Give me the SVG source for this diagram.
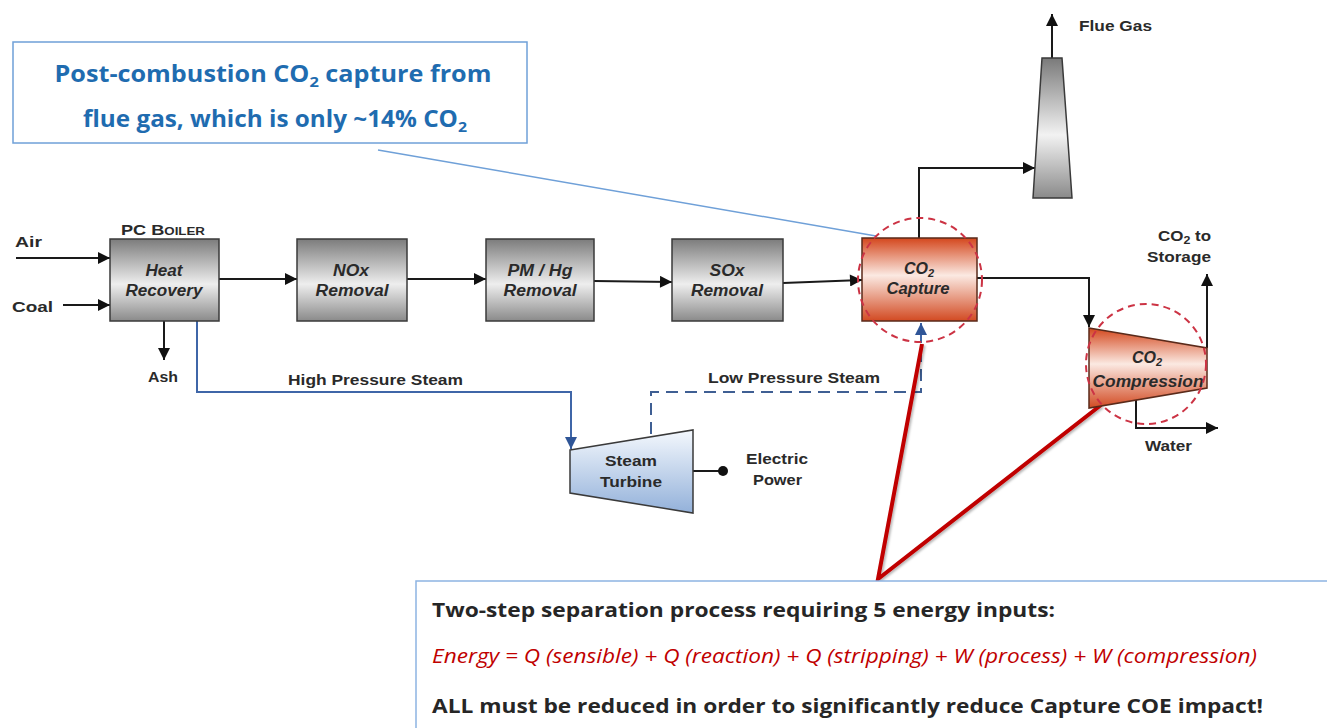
<svg xmlns="http://www.w3.org/2000/svg" width="1327" height="728" viewBox="0 0 1327 728">
  <defs>
    <linearGradient id="gGray" x1="0" y1="0" x2="0" y2="1">
      <stop offset="0" stop-color="#7c7c7c"/>
      <stop offset="0.55" stop-color="#eeeeee"/>
      <stop offset="1" stop-color="#8a8a8a"/>
    </linearGradient>
    <linearGradient id="gRed" x1="0" y1="0" x2="0" y2="1">
      <stop offset="0" stop-color="#d4471d"/>
      <stop offset="0.45" stop-color="#fbe9e2"/>
      <stop offset="1" stop-color="#d24a22"/>
    </linearGradient>
    <linearGradient id="gBlue" x1="0" y1="0" x2="0" y2="1">
      <stop offset="0" stop-color="#f4f8fd"/>
      <stop offset="1" stop-color="#93b1da"/>
    </linearGradient>
    <linearGradient id="gStack" x1="0" y1="0" x2="0" y2="1">
      <stop offset="0" stop-color="#7a7a7a"/>
      <stop offset="0.55" stop-color="#f2f2f2"/>
      <stop offset="1" stop-color="#8a8a8a"/>
    </linearGradient>
    <marker id="ah" viewBox="0 0 10 10" refX="10" refY="5" markerWidth="16" markerHeight="12" markerUnits="userSpaceOnUse" orient="auto">
      <path d="M0,0 L10,5 L0,10 z" fill="#111"/>
    </marker>
    <marker id="ahBlue" viewBox="0 0 10 10" refX="10" refY="5" markerWidth="16" markerHeight="12" markerUnits="userSpaceOnUse" orient="auto">
      <path d="M0,0 L10,5 L0,10 z" fill="#2f5597"/>
    </marker>
    <filter id="shadow" x="-10%" y="-10%" width="120%" height="120%">
      <feDropShadow dx="1.5" dy="1.5" stdDeviation="1" flood-color="#000" flood-opacity="0.3"/>
    </filter>
  </defs>
  <style>
    .lbl { font-family: "Liberation Sans", Arial, sans-serif; font-weight: bold; font-size: 15px; fill: #2a2a2a; }
    .box-lbl { font-family: "Liberation Sans", Arial, sans-serif; font-weight: bold; font-style: italic; font-size: 16px; fill: #2a2a2a; text-anchor: middle; }
    .gray { fill: url(#gGray); stroke: #3a3a3a; stroke-width: 1.5; }
    .red { fill: url(#gRed); stroke: #5a2a1a; stroke-width: 1.5; }
    .flow { fill: none; stroke: #1a1a1a; stroke-width: 2; }
    .steam { fill: none; stroke: #3f66a8; stroke-width: 2; }
    .lp { fill: none; stroke: #3f5f93; stroke-width: 2; stroke-dasharray: 12 7; }
    .ring { fill: none; stroke: #cc3344; stroke-width: 2; stroke-dasharray: 7 5; }
    .callout-text { font-family: "Open Sans", "Liberation Sans", sans-serif; font-weight: bold; font-size: 23px; fill: #1f6cb0; text-anchor: middle; }
    .note { font-family: "Open Sans", "Liberation Sans", sans-serif; font-size: 20px; }
  </style>

  <rect width="1327" height="728" fill="#ffffff"/>

  <!-- connectors -->
  <g id="connectors">
    <!-- inputs -->
    <line class="flow" x1="16" y1="258" x2="110" y2="258" marker-end="url(#ah)"/>
    <line class="flow" x1="63" y1="305" x2="110" y2="305" marker-end="url(#ah)"/>
    <line class="flow" x1="164" y1="321" x2="164" y2="360" marker-end="url(#ah)"/>
    <!-- main gas path -->
    <line class="flow" x1="219" y1="279" x2="297" y2="279" marker-end="url(#ah)"/>
    <line class="flow" x1="407" y1="279" x2="486" y2="279" marker-end="url(#ah)"/>
    <line class="flow" x1="594" y1="281" x2="672" y2="282" marker-end="url(#ah)"/>
    <line class="flow" x1="783" y1="283" x2="862" y2="280" marker-end="url(#ah)"/>
    <!-- to stack and out -->
    <polyline class="flow" points="919,238 919,168 1035,168" marker-end="url(#ah)"/>
    <line class="flow" x1="1052" y1="58" x2="1052" y2="14" marker-end="url(#ah)"/>
    <!-- to compression -->
    <polyline class="flow" points="977,278 1089,278 1089,327" marker-end="url(#ah)"/>
    <line class="flow" x1="1207" y1="348" x2="1207" y2="274" marker-end="url(#ah)"/>
    <polyline class="flow" points="1136,392 1136,428 1218,428" marker-end="url(#ah)"/>
    <!-- steam lines -->
    <polyline class="steam" points="197,321 197,392 571,392 571,449" marker-end="url(#ahBlue)"/>
    <polyline class="lp" points="651,434 651,392 921,392 921,336"/>
    <line class="steam" x1="921" y1="340" x2="921" y2="323" marker-end="url(#ahBlue)"/>
    <!-- electric power -->
    <line class="flow" x1="693" y1="471" x2="722" y2="471" stroke-width="1.5"/>
    <circle cx="723" cy="471" r="5" fill="#111"/>
    <!-- callout pointer -->
    <line x1="378" y1="150" x2="876" y2="236" stroke="#6fa0d8" stroke-width="1.5"/>
    <!-- energy pointers -->
    <g filter="url(#shadow)">
      <polyline points="922,344 878,579 1101,405" fill="none" stroke="#c00000" stroke-width="4" stroke-linejoin="miter"/>
    </g>
  </g>

  <!-- PC boiler / heat recovery -->
  <g id="boiler">
    <text class="lbl" x="163" y="235" text-anchor="middle" font-size="14" textLength="84" lengthAdjust="spacingAndGlyphs">PC B<tspan font-size="11">OILER</tspan></text>
    <rect class="gray" x="110" y="239" width="109" height="82"/>
    <text class="box-lbl" x="164" y="276" textLength="37" lengthAdjust="spacingAndGlyphs">Heat</text>
    <text class="box-lbl" x="164" y="296" textLength="77" lengthAdjust="spacingAndGlyphs">Recovery</text>
    <text class="lbl" x="15" y="247" font-size="17" textLength="27" lengthAdjust="spacingAndGlyphs">Air</text>
    <text class="lbl" x="12" y="312" font-size="17" textLength="41" lengthAdjust="spacingAndGlyphs">Coal</text>
    <text class="lbl" x="148" y="382" textLength="30" lengthAdjust="spacingAndGlyphs">Ash</text>
  </g>

  <g id="nox">
    <rect class="gray" x="297" y="239" width="110" height="82"/>
    <text class="box-lbl" x="351" y="276" textLength="36" lengthAdjust="spacingAndGlyphs">NOx</text>
    <text class="box-lbl" x="352" y="296" textLength="73" lengthAdjust="spacingAndGlyphs">Removal</text>
  </g>

  <g id="pmhg">
    <rect class="gray" x="486" y="239" width="108" height="82"/>
    <text class="box-lbl" x="540" y="276" textLength="65" lengthAdjust="spacingAndGlyphs">PM / Hg</text>
    <text class="box-lbl" x="540" y="296" textLength="73" lengthAdjust="spacingAndGlyphs">Removal</text>
  </g>

  <g id="sox">
    <rect class="gray" x="672" y="239" width="111" height="82"/>
    <text class="box-lbl" x="727" y="276" textLength="35" lengthAdjust="spacingAndGlyphs">SOx</text>
    <text class="box-lbl" x="727" y="296" textLength="72" lengthAdjust="spacingAndGlyphs">Removal</text>
  </g>

  <g id="co2-capture">
    <rect class="red" x="862" y="238" width="115" height="83"/>
    <text class="box-lbl" x="919" y="274">CO<tspan font-size="11" dy="3">2</tspan></text>
    <text class="box-lbl" x="918" y="294" textLength="63" lengthAdjust="spacingAndGlyphs">Capture</text>
    <circle class="ring" cx="920" cy="280" r="62"/>
  </g>

  <g id="stack">
    <polygon points="1042,58 1062,58 1072,198 1033,198" fill="url(#gStack)" stroke="#3a3a3a" stroke-width="1.5"/>
    <text class="lbl" x="1079" y="31" textLength="73" lengthAdjust="spacingAndGlyphs">Flue Gas</text>
  </g>

  <g id="co2-compression">
    <polygon class="red" points="1089,328 1207,348 1207,388 1089,408"/>
    <text class="box-lbl" x="1147" y="363">CO<tspan font-size="11" dy="3">2</tspan></text>
    <text class="box-lbl" x="1148" y="387" textLength="111" lengthAdjust="spacingAndGlyphs">Compression</text>
    <circle class="ring" cx="1146" cy="364" r="60"/>
    <text class="lbl" x="1158" y="241" textLength="53" lengthAdjust="spacingAndGlyphs">CO<tspan font-size="11" dy="3">2</tspan><tspan dy="-3"> to</tspan></text>
    <text class="lbl" x="1147" y="262" textLength="64" lengthAdjust="spacingAndGlyphs">Storage</text>
    <text class="lbl" x="1145" y="451" textLength="47" lengthAdjust="spacingAndGlyphs">Water</text>
  </g>

  <g id="steam-turbine">
    <polygon points="570,450 693,430 693,513 570,493" fill="url(#gBlue)" stroke="#3a3a3a" stroke-width="1.5"/>
    <text class="lbl" x="605" y="466" textLength="52" lengthAdjust="spacingAndGlyphs">Steam</text>
    <text class="lbl" x="600" y="487" textLength="62" lengthAdjust="spacingAndGlyphs">Turbine</text>
    <text class="lbl" x="746" y="464" textLength="62" lengthAdjust="spacingAndGlyphs">Electric</text>
    <text class="lbl" x="753" y="485" textLength="49" lengthAdjust="spacingAndGlyphs">Power</text>
    <text class="lbl" x="288" y="385" textLength="175" lengthAdjust="spacingAndGlyphs">High Pressure Steam</text>
    <text class="lbl" x="708" y="383" textLength="172" lengthAdjust="spacingAndGlyphs">Low Pressure Steam</text>
  </g>

  <!-- top-left callout -->
  <g id="callout">
    <rect x="13" y="42" width="514" height="101" fill="#ffffff" stroke="#6fa0d8" stroke-width="1.5"/>
    <text class="callout-text" x="273" y="82" textLength="437" lengthAdjust="spacingAndGlyphs">Post-combustion CO<tspan font-size="15" dy="5">2</tspan><tspan dy="-5"> capture from</tspan></text>
    <text class="callout-text" x="275" y="127" textLength="384" lengthAdjust="spacingAndGlyphs">flue gas, which is only ~14% CO<tspan font-size="15" dy="5">2</tspan></text>
  </g>

  <!-- bottom note -->
  <g id="energy-note">
    <rect x="416" y="581" width="920" height="160" fill="#ffffff" stroke="#8db4e2" stroke-width="1.5"/>
    <text class="note" x="432" y="617" font-size="23" font-weight="bold" fill="#262626" textLength="623" lengthAdjust="spacingAndGlyphs">Two-step separation process requiring 5 energy inputs:</text>
    <text class="note" x="432" y="663" font-style="italic" fill="#c00000" textLength="825" lengthAdjust="spacingAndGlyphs">Energy = Q (sensible) + Q (reaction) + Q (stripping) + W (process) + W (compression)</text>
    <text class="note" x="432" y="713" font-size="23" font-weight="bold" fill="#262626" textLength="831" lengthAdjust="spacingAndGlyphs">ALL must be reduced in order to significantly reduce Capture COE impact!</text>
  </g>
</svg>
